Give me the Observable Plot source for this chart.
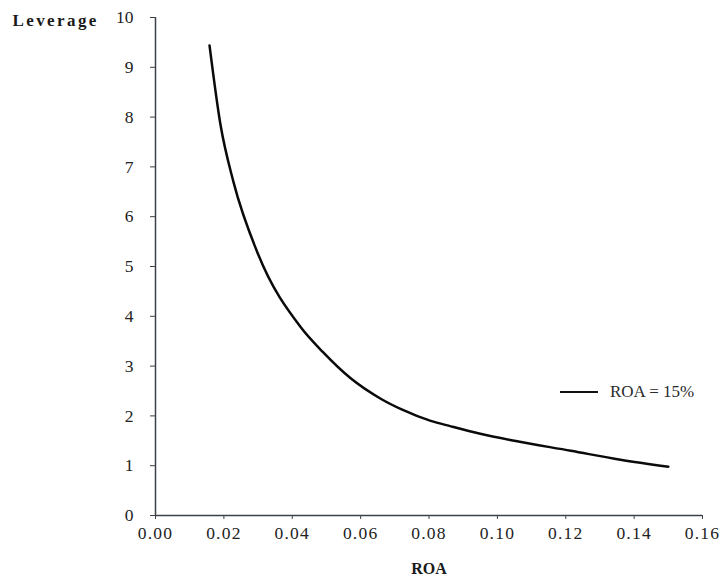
<!DOCTYPE html>
<html>
<head>
<meta charset="utf-8">
<script src="https://cdn.jsdelivr.net/npm/d3@7"></script>
<script src="https://cdn.jsdelivr.net/npm/@observablehq/plot@0.6"></script>
<style>
  html, body { margin: 0; padding: 0; background: #fff; }
  #wrap { position: relative; width: 726px; height: 581px; font-family: "Liberation Serif", "Times New Roman", serif; }
  #wrap svg { display: block; }
  #wrap svg text { font-family: "Liberation Serif", "Times New Roman", serif !important; }
  #wrap svg g[aria-label="x-axis tick label"] text, #wrap svg g[aria-label="y-axis tick label"] text { font-size: 17.5px !important; fill: #222; }
  #wrap svg g[aria-label="x-axis tick label"] text { letter-spacing: 1.2px; }
  #wrap svg .ytitle text { letter-spacing: 2.4px; }
  #legend { position: absolute; left: 560px; top: 382px; display: flex; align-items: center; font-size: 17px; color: #2a2a2a; white-space: nowrap; }
  #legend .sw { display: inline-block; width: 38px; height: 0; border-top: 2px solid #111; margin-right: 12px; }
</style>
</head>
<body>
<div id="wrap"></div>
<script>
// Data
const roa      = [0.0158, 0.019, 0.0228, 0.030, 0.0425, 0.049, 0.057, 0.066, 0.072, 0.0805, 0.0864, 0.095, 0.105, 0.1215, 0.136, 0.150];
const leverage = [9.44,   7.85,  6.70,   5.25,  3.78,   3.28,  2.76,  2.34,  2.13,  1.90,   1.79,   1.64,  1.50,  1.30,   1.12,  0.98];
const xTicks = [0, 0.02, 0.04, 0.06, 0.08, 0.10, 0.12, 0.14, 0.16];
const yTicks = [0, 1, 2, 3, 4, 5, 6, 7, 8, 9, 10];
const seriesName = "ROA = 15%";
const xTitle = "ROA";
const yTitle = "Leverage";

const curve = roa.map((x, i) => ({roa: x, leverage: leverage[i]}));

const axisColor = "#3c4148";
const chart = Plot.plot({
  width: 726,
  height: 581,
  marginLeft: 155,
  marginRight: 24,
  marginTop: 17,
  marginBottom: 66,
  style: {fontFamily: "'Liberation Serif', 'Times New Roman', serif", fontSize: "17px", color: "#222", background: "#fff"},
  x: {domain: [0, 0.16]},
  y: {domain: [0, 10]},
  marks: [
    Plot.axisX({ticks: xTicks, tickFormat: d3.format(".2f"), tickSize: 4, tickPadding: 7, label: null, stroke: axisColor, fontSize: 17.5}),
    Plot.axisY({ticks: yTicks, tickFormat: d => String(d), tickSize: 5, tickPadding: 17, label: null, stroke: axisColor, fontSize: 17.5}),
    Plot.ruleY([0], {stroke: axisColor, strokeWidth: 1.5}),
    Plot.ruleX([0], {stroke: axisColor, strokeWidth: 1.5}),
    Plot.line(curve, {x: "roa", y: "leverage", stroke: "#0a0a0a", strokeWidth: 2.5, curve: "monotone-x"}),
    Plot.text([yTitle], {frameAnchor: "top-left", dx: -143, dy: 3, textAnchor: "start", lineAnchor: "middle", fontWeight: "bold", fontSize: 17, fill: "#1a1a1a", className: "ytitle"}),
    Plot.text([xTitle], {frameAnchor: "bottom", dy: 53, lineAnchor: "middle", fontWeight: "bold", fontSize: 16, fill: "#1a1a1a"})
  ]
});
chart.querySelectorAll('g[aria-label$="tick label"]').forEach(g => {
  g.setAttribute("font-size", "17.5");
  g.querySelectorAll("text").forEach(t => t.setAttribute("font-size", "17.5"));
});
const wrap = document.getElementById("wrap");
wrap.appendChild(chart);
const legend = document.createElement("div");
legend.id = "legend";
legend.innerHTML = '<span class="sw"></span><span></span>';
legend.lastChild.textContent = seriesName;
wrap.appendChild(legend);
</script>
</body>
</html>
